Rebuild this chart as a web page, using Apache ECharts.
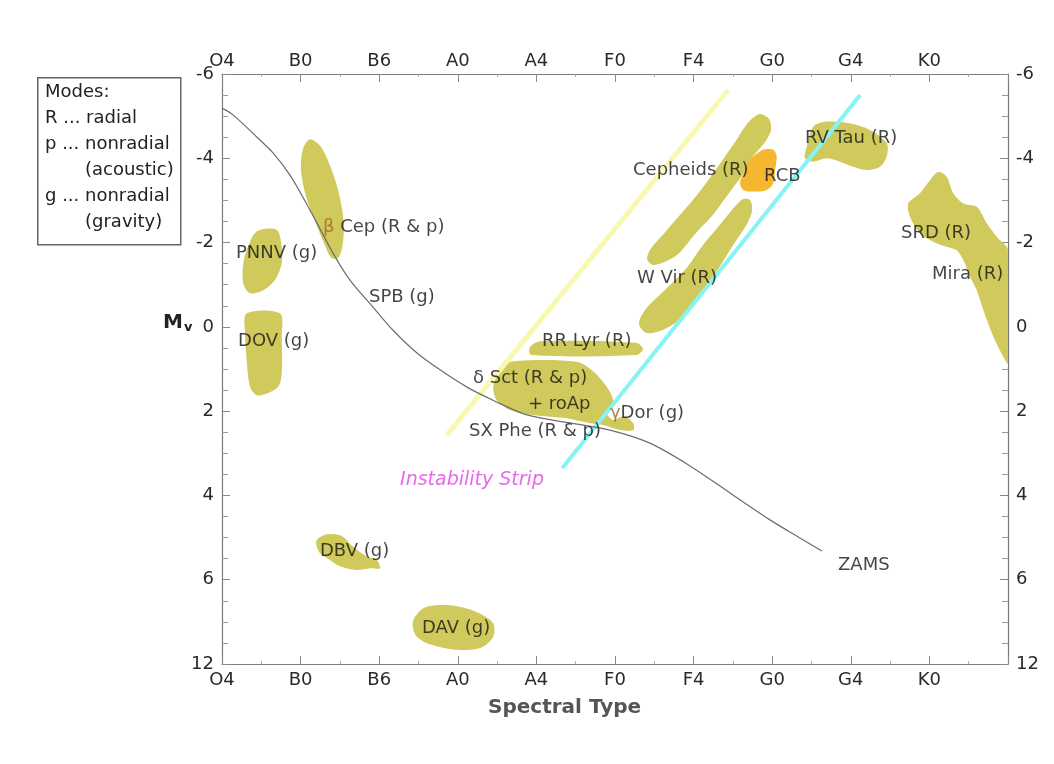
<!DOCTYPE html>
<html>
<head>
<meta charset="utf-8">
<script src="https://cdn.jsdelivr.net/npm/echarts@6/dist/echarts.min.js"></script>
<style>
html,body{margin:0;padding:0;background:#fff;}
#chart{width:1054px;height:764px;}
</style>
</head>
<body>
<div id="chart"></div>
<script>
// ---------- data ----------
const spectralTypes = ['O4','B0','B6','A0','A4','F0','F4','G0','G4','K0'];
const magTickLabels = ['-6','-4','-2','0','2','4','6','12'];

const zams = [[0,-5.19],[0.14,-5.03],[0.445,-4.50],[0.649,-4.13],[0.865,-3.60],[1.12,-2.77],[1.412,-1.75],[1.628,-1.11],[1.921,-0.47],[2.176,0.08],[2.481,0.62],[2.774,1.02],[3.117,1.43],[3.448,1.74],[3.88,2.09],[4.427,2.28],[4.936,2.45],[5.445,2.76],[5.954,3.30],[6.463,3.94],[6.972,4.58],[7.354,5.01],[7.634,5.32]];
const stripBlue = [[2.86,2.57],[6.44,-5.62]];
const stripRed = [[4.33,3.35],[8.12,-5.50]];

const betaCep = [[1.12,-4.45],[1.26,-4.27],[1.38,-3.80],[1.465,-3.33],[1.53,-2.77],[1.55,-2.30],[1.53,-1.90],[1.48,-1.64],[1.39,-1.64],[1.30,-1.98],[1.195,-2.46],[1.07,-3.09],[1.005,-3.72],[1.03,-4.22]];
const pnnv = [[0.441,-2.26],[0.696,-2.30],[0.76,-1.90],[0.76,-1.51],[0.674,-1.11],[0.525,-0.87],[0.356,-0.80],[0.271,-1.03],[0.271,-1.51],[0.314,-1.82]];
const dov = [[0.314,-0.32],[0.738,-0.32],[0.76,0.23],[0.76,1.10],[0.716,1.42],[0.569,1.58],[0.441,1.62],[0.356,1.42],[0.314,0.79],[0.293,0.15]];
const dbv = [[1.205,5.06],[1.332,4.92],[1.523,4.96],[1.67,5.22],[1.841,5.45],[1.968,5.53],[2.01,5.73],[1.883,5.73],[1.714,5.77],[1.501,5.68],[1.374,5.53],[1.247,5.37],[1.205,5.22]];
const dav = [[2.434,6.96],[2.561,6.68],[2.774,6.60],[3.028,6.64],[3.282,6.80],[3.452,7.04],[3.452,7.35],[3.324,7.59],[3.113,7.67],[2.859,7.63],[2.604,7.51],[2.477,7.35],[2.434,7.19]];
const rrLyr = [[3.918,0.48],[4.046,0.34],[5.267,0.38],[5.356,0.53],[5.267,0.67],[3.931,0.67]];
const deltaSct = [[3.537,0.95],[3.749,0.81],[4.513,0.83],[4.724,1.06],[4.895,1.42],[4.978,1.74],[4.936,1.90],[4.895,2.05],[4.978,2.21],[5.106,2.13],[5.233,2.29],[5.233,2.45],[5.064,2.45],[4.851,2.33],[4.682,2.29],[4.386,2.17],[3.961,2.09],[3.664,1.97],[3.495,1.74],[3.452,1.42]];
const cepheids = [[6.845,-5.05],[6.96,-4.93],[6.985,-4.67],[6.90,-4.36],[6.755,-4.04],[6.605,-3.56],[6.48,-3.25],[6.225,-2.61],[6.055,-2.28],[5.80,-1.72],[5.645,-1.55],[5.487,-1.47],[5.41,-1.60],[5.45,-1.84],[5.64,-2.25],[5.895,-2.80],[6.105,-3.28],[6.32,-3.83],[6.53,-4.39],[6.70,-4.86]];
const wVir = [[6.718,-3.01],[6.745,-2.77],[6.685,-2.46],[6.515,-1.98],[6.304,-1.35],[6.049,-0.72],[5.795,-0.14],[5.573,0.10],[5.393,0.14],[5.305,-0.08],[5.39,-0.42],[5.645,-0.89],[5.90,-1.37],[6.11,-1.92],[6.325,-2.40],[6.495,-2.79],[6.625,-3.03]];
const rvTau = [[7.439,-4.27],[7.523,-4.75],[7.693,-4.87],[7.99,-4.83],[8.244,-4.67],[8.457,-4.36],[8.457,-4.04],[8.372,-3.80],[8.202,-3.72],[8.032,-3.80],[7.863,-3.92],[7.693,-4.00],[7.523,-3.92],[7.417,-4.00]];
const srdMira = [[9.113,-3.68],[9.22,-3.56],[9.304,-3.17],[9.431,-2.93],[9.602,-2.85],[9.729,-2.46],[9.856,-2.14],[10.0,-1.82],[10.0,0.87],[9.94,0.71],[9.813,0.23],[9.686,-0.40],[9.602,-0.87],[9.517,-1.19],[9.431,-1.59],[9.347,-1.82],[9.22,-1.90],[9.05,-2.02],[8.88,-2.22],[8.753,-2.61],[8.731,-2.93],[8.88,-3.17],[9.008,-3.48]];
const rcb = [[6.718,-3.96],[6.887,-4.20],[7.014,-4.20],[7.057,-4.04],[7.036,-3.72],[7.014,-3.41],[6.93,-3.25],[6.76,-3.21],[6.633,-3.25],[6.59,-3.41],[6.633,-3.64]];

const regionLabels = [
  [1.285,-2.35,'{b|β} Cep (R & p)'],
  [0.178,-1.75,'PNNV (g)'],
  [1.870,-0.71,'SPB (g)'],
  [0.204,0.34,'DOV (g)'],
  [4.071,0.34,'RR Lyr (R)'],
  [3.193,1.21,'δ Sct (R & p)'],
  [3.893,1.83,'+ roAp'],
  [3.142,2.47,'SX Phe (R & p)'],
  [4.936,2.04,'{b|γ}Dor (g)'],
  [5.229,-3.72,'Cepheids (R)'],
  [6.896,-3.58,'RCB'],
  [7.417,-4.48,'RV Tau (R)'],
  [5.280,-1.16,'W Vir (R)'],
  [8.639,-2.23,'SRD (R)'],
  [9.033,-1.25,'Mira (R)'],
  [1.247,5.32,'DBV (g)'],
  [2.545,7.15,'DAV (g)'],
  [7.837,5.65,'ZAMS']
];
const stripLabel = [[2.265,3.63,'Instability Strip']];

// ---------- chart ----------
const FONT = '"DejaVu Sans", "Liberation Sans", sans-serif';
const TXT = '#151515';
const OLIVE = '#d0ca5c';
const blobs = [
  {pts: betaCep, c: OLIVE}, {pts: pnnv, c: OLIVE}, {pts: dov, c: OLIVE},
  {pts: dbv, c: OLIVE}, {pts: dav, c: OLIVE}, {pts: rrLyr, c: OLIVE},
  {pts: deltaSct, c: OLIVE}, {pts: cepheids, c: OLIVE}, {pts: wVir, c: OLIVE},
  {pts: rvTau, c: OLIVE}, {pts: srdMira, c: OLIVE}, {pts: rcb, c: '#f5b630'}
];

const chart = echarts.init(document.getElementById('chart'));
const axisLineStyle = {color: '#7a7a7a', width: 1.2};
function xAxisCfg(pos) {
  return {
    type: 'value', position: pos, min: 0, max: 10, interval: 1,
    axisLine: {show: true, onZero: false, lineStyle: axisLineStyle},
    axisTick: {show: true, inside: true, length: 8, lineStyle: {color: '#888'}},
    minorTick: {show: true, splitNumber: 2, length: 3, lineStyle: {color: '#aaa'}},
    splitLine: {show: false},
    axisLabel: {
      show: true, color: '#2a2a2a', fontSize: 18, fontFamily: FONT,
      margin: pos === 'top' ? 4 : 7,
      formatter: v => spectralTypes[Math.round(v)] || ''
    }
  };
}
function yAxisCfg(pos) {
  return {
    type: 'value', position: pos, min: -6, max: 8, interval: 2, inverse: true,
    axisLine: {show: true, onZero: false, lineStyle: axisLineStyle},
    axisTick: {show: true, inside: true, length: 8, lineStyle: {color: '#888'}},
    minorTick: {show: true, splitNumber: 4, length: 6, lineStyle: {color: '#999'}},
    splitLine: {show: false},
    axisLabel: {
      show: true, color: '#2a2a2a', fontSize: 18, fontFamily: FONT, margin: 8,
      formatter: v => magTickLabels[Math.round((v + 6) / 2)]
    }
  };
}

const legendText = (left, top, text) => ({type: 'text', left: left, top: top, style: {text: text, fontSize: 18, fontFamily: FONT, fill: '#222'}});

const option = {
  backgroundColor: '#fff',
  animation: false,
  grid: {left: 222, right: 46, top: 74, bottom: 100, containLabel: false},
  xAxis: [xAxisCfg('bottom'), xAxisCfg('top')],
  yAxis: [yAxisCfg('left'), yAxisCfg('right')],
  series: [
    {
      type: 'custom', xAxisIndex: 0, yAxisIndex: 0, clip: true, z: 2,
      data: blobs.map(b => b.pts[0]),
      renderItem: function (params, api) {
        const b = blobs[params.dataIndex];
        const pts = b.pts.map(p => api.coord(p));
        return {type: 'polygon', shape: {points: pts, smooth: 0.3}, style: {fill: b.c, stroke: null}};
      }
    },
    {
      type: 'line', data: stripBlue, showSymbol: false, z: 3,
      lineStyle: {color: '#f8f8b0', width: 5}
    },
    {
      type: 'line', data: stripRed, showSymbol: false, z: 3,
      lineStyle: {color: '#86f4f4', width: 4}
    },
    {
      type: 'line', data: zams, showSymbol: false, smooth: 0.3, z: 4,
      lineStyle: {color: '#6e6e6e', width: 1.2}
    },
    {
      type: 'scatter', data: regionLabels, symbolSize: 0, z: 6,
      label: {
        show: true, position: 'right', distance: 0,
        formatter: p => p.data[2],
        color: TXT, fontSize: 18, fontFamily: FONT,
        rich: {b: {color: '#a8602a', fontSize: 18, fontFamily: FONT}}
      }
    },
    {
      type: 'scatter', data: stripLabel, symbolSize: 0, z: 6,
      label: {
        show: true, position: 'right', distance: 0,
        formatter: p => p.data[2],
        color: '#e044e4', fontSize: 19, fontStyle: 'italic', fontFamily: FONT
      }
    }
  ],
  graphic: [
    {type: 'rect', left: 37, top: 77, shape: {width: 143, height: 167}, style: {fill: '#fff', stroke: '#666', lineWidth: 1.5}},
    legendText(45, 83, 'Modes:'),
    legendText(45, 109, 'R ... radial'),
    legendText(45, 135, 'p ... nonradial'),
    legendText(85, 161, '(acoustic)'),
    legendText(45, 187, 'g ... nonradial'),
    legendText(85, 213, '(gravity)'),
    {type: 'text', left: 163, top: 313, style: {
      text: '{m|M}{v|v}', fontFamily: FONT,
      rich: {m: {fontSize: 20, fontWeight: 'bold', fill: '#222', fontFamily: FONT},
             v: {fontSize: 13, fontWeight: 'bold', fill: '#222', fontFamily: FONT, padding: [9, 0, 0, 1]}}
    }},
    {type: 'text', left: 488, top: 698, style: {text: 'Spectral Type', fontSize: 20, fontWeight: 'bold', fontFamily: FONT, fill: '#555'}}
  ]
};
chart.setOption(option);
</script>
</body>
</html>
